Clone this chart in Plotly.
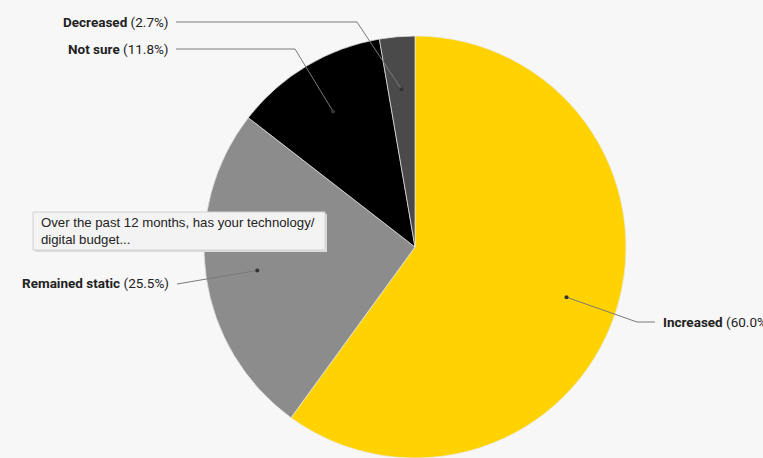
import math
import plotly.graph_objects as go

# Survey answers and shares (%)
categories = ["Increased", "Remained static", "Not sure", "Decreased"]
shares = [60.0, 25.5, 11.8, 2.7]
colors = ["#FFD200", "#8C8C8C", "#000000", "#4A4A4A"]
question = "Over the past 12 months, has your technology/<br>digital budget..."

W, H = 763, 458
CX, CY, R = 415, 248, 211          # pie centre and radius in pixels
DOT_R = 0.755                      # leader dot position as a fraction of radius

# label anchors (pixel) and leader-line elbows for each slice
label_pos = {
    "Increased": dict(x=661, y=322, anchor="left", elbow=[(655, 322), (637, 322)]),
    "Remained static": dict(x=171, y=283, anchor="right", elbow=[(177, 284)]),
    "Not sure": dict(x=171, y=49, anchor="right", elbow=[(176, 49), (295, 49)]),
    "Decreased": dict(x=171, y=22, anchor="right", elbow=[(176, 22), (357, 22)]),
}


def px(x):
    return x / W


def py(y):
    return 1 - y / H


fig = go.Figure()
fig.add_trace(go.Pie(
    labels=categories,
    values=shares,
    sort=False,
    direction="clockwise",
    rotation=0,
    marker=dict(colors=colors, line=dict(color="#E8E8E8", width=0.7)),
    textinfo="none",
    hoverinfo="label+percent",
    showlegend=False,
    domain=dict(x=[px(CX - R), px(CX + R)], y=[0, min(1, 2 * R / H)]),
))

shapes = []
annotations = []
total = sum(shares)
start = 0.0
for name, val in zip(categories, shares):
    span = 360.0 * val / total
    mid = math.radians(start + span / 2)
    start += span
    dx = CX + DOT_R * R * math.sin(mid)
    dy = CY - DOT_R * R * math.cos(mid)
    lp = label_pos[name]
    pts = lp["elbow"] + [(dx, dy)]
    path = "M " + " L ".join(f"{px(a):.5f},{py(b):.5f}" for a, b in pts)
    shapes.append(dict(type="path", xref="paper", yref="paper", path=path,
                       line=dict(color="#7A7A7A", width=1), layer="above"))
    shapes.append(dict(type="circle", xref="paper", yref="paper",
                       x0=px(dx - 2), x1=px(dx + 2), y0=py(dy + 2), y1=py(dy - 2),
                       fillcolor="#333333", line=dict(width=0), layer="above"))
    annotations.append(dict(
        x=px(lp["x"]), y=py(lp["y"]), xref="paper", yref="paper",
        xanchor=lp["anchor"], yanchor="middle", showarrow=False,
        text=f"<b>{name}</b> ({val:.1f}%)",
        font=dict(family="Roboto", size=13.5, color="#222222"),
    ))

# question box
shapes.append(dict(type="rect", xref="paper", yref="paper",
                   x0=px(35), x1=px(327), y0=py(252), y1=py(214),
                   fillcolor="#DCDCDC", line=dict(width=0), layer="above"))
shapes.append(dict(type="rect", xref="paper", yref="paper",
                   x0=px(33), x1=px(325), y0=py(250), y1=py(212),
                   fillcolor="#F3F3F3", line=dict(color="#D2D2D2", width=1),
                   layer="above"))
annotations.append(dict(
    x=px(39), y=py(231), xref="paper", yref="paper",
    xanchor="left", yanchor="middle", align="left", showarrow=False,
    text=question,
    font=dict(family="Liberation Sans", size=13.2, color="#222222"),
))

fig.update_layout(
    width=W, height=H,
    margin=dict(l=0, r=0, t=0, b=0),
    paper_bgcolor="#F7F7F7",
    plot_bgcolor="#F7F7F7",
    shapes=shapes,
    annotations=annotations,
)

fig.write_html("out.html")
